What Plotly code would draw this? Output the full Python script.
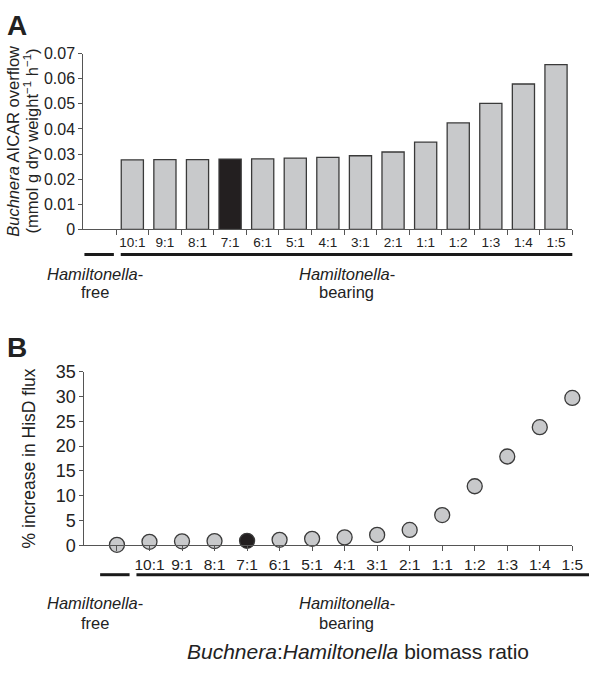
import plotly.graph_objects as go

# biomass ratios (Buchnera:Hamiltonella), Hamiltonella-bearing only
ratios = ["10:1", "9:1", "8:1", "7:1", "6:1", "5:1", "4:1", "3:1", "2:1",
          "1:1", "1:2", "1:3", "1:4", "1:5"]
highlight = "7:1"

# panel A: Buchnera AICAR overflow (mmol g dry weight-1 h-1)
aicar = [0.0277, 0.0278, 0.0278, 0.0280, 0.0281, 0.0284, 0.0287, 0.0293,
         0.0308, 0.0347, 0.0424, 0.0502, 0.0579, 0.0656]

# panel B: % increase in HisD flux
hisd_free = 0.1
hisd = [0.7, 0.8, 0.85, 0.9, 1.1, 1.3, 1.6, 2.1, 3.1, 6.1, 11.9, 17.9, 23.8, 29.7]

W, H = 600, 673
FONT = "Liberation Sans, Arial, sans-serif"
INK = "#222222"
AXIS = "#555555"
GREY = "#c8c9cb"
DARK = "#231f20"


def px(x):
    return x / W


def py(y):
    return 1 - y / H


def f(size):
    return dict(family=FONT, size=size, color=INK)


pos = list(range(1, len(ratios) + 1))
fills = [DARK if r == highlight else GREY for r in ratios]

fig = go.Figure()

fig.add_trace(go.Bar(
    x=pos, y=aicar, width=0.68,
    marker=dict(color=fills, line=dict(color="#3a3a3a", width=1.3)),
    xaxis="x", yaxis="y", showlegend=False,
))

fig.add_trace(go.Scatter(
    x=[0] + pos, y=[hisd_free] + hisd, mode="markers",
    marker=dict(size=15, color=[GREY] + fills,
                line=dict(color="#3a3a3a", width=1.3)),
    xaxis="x2", yaxis="y2", showlegend=False, cliponaxis=False,
))

axis_common = dict(showgrid=False, zeroline=False, showline=True,
                   linecolor=AXIS, linewidth=1.3, tickcolor=AXIS)

fig.update_layout(
    width=W, height=H,
    margin=dict(l=0, r=0, t=0, b=0),
    paper_bgcolor="white", plot_bgcolor="white",
    font=dict(family=FONT, color=INK),
    xaxis=dict(**axis_common, domain=[px(85), px(583)], anchor="y",
               range=[-0.5, len(ratios) + 0.5],
               tickvals=pos, ticktext=ratios, ticks="", tickfont=f(13.5),
               minor=dict(tickvals=[p + 0.5 for p in range(len(ratios) + 1)],
                          ticks="outside", ticklen=5, tickcolor=AXIS)),
    yaxis=dict(**axis_common, domain=[py(226), py(45)], anchor="x",
               range=[0, 0.07], dtick=0.01, ticks="outside", ticklen=4,
               tickfont=f(16)),
    xaxis2=dict(**axis_common, domain=[px(86), px(583)], anchor="y2",
                range=[-1, len(ratios)],
                tickvals=[0] + pos, ticktext=[""] + ratios,
                ticks="outside", ticklen=5, tickfont=f(15.5)),
    yaxis2=dict(**axis_common, domain=[py(551.7), py(372.7)], anchor="x2",
                range=[0, 35], dtick=5, ticks="outside", ticklen=4,
                tickfont=f(18),
                title=dict(text="% increase in HisD flux", font=f(17.5),
                           standoff=15)),
)

# panel A y title, two lines set close together
note_kw = dict(xref="paper", yref="paper", showarrow=False,
               xanchor="center", yanchor="middle")
fig.add_annotation(text="<i>Buchnera</i> AICAR overflow", x=px(13), y=py(135),
                   textangle=-90, font=f(16.5), **note_kw)
fig.add_annotation(text="(mmol g dry weight<sup>\u22121</sup> h<sup>\u22121</sup>)",
                   x=px(32), y=py(135), textangle=-90, font=f(16.5), **note_kw)

line = dict(color="#1a1a1a", width=3)
# group underlines
for x0, x1, y in [(86, 116, 252), (123, 583, 252), (102, 132, 582), (139, 600, 582)]:
    fig.add_shape(type="line", xref="paper", yref="paper",
                  x0=px(x0), x1=px(x1), y0=py(y), y1=py(y), line=line)


def note(text, x, y, size=16.5):
    fig.add_annotation(text=text, x=px(x), y=py(y), font=f(size), **note_kw)


for y1, y2 in [(272, 291), (611, 632)]:
    note("<i>Hamiltonella</i>-", 97, y1)
    note("free", 97, y2)
    note("<i>Hamiltonella</i>-", 353, y1)
    note("bearing", 353, y2)

note("<i>Buchnera</i>:<i>Hamiltonella</i> biomass ratio", 365, 661, size=21)
note("<b>A</b>", 17, 16, size=28)
note("<b>B</b>", 17, 348, size=28)

# drop the default 8px page margin so the figure sits at the window origin
fig.write_html("out.html", config={"displayModeBar": False},
               post_script="document.body.style.margin = '0';")
